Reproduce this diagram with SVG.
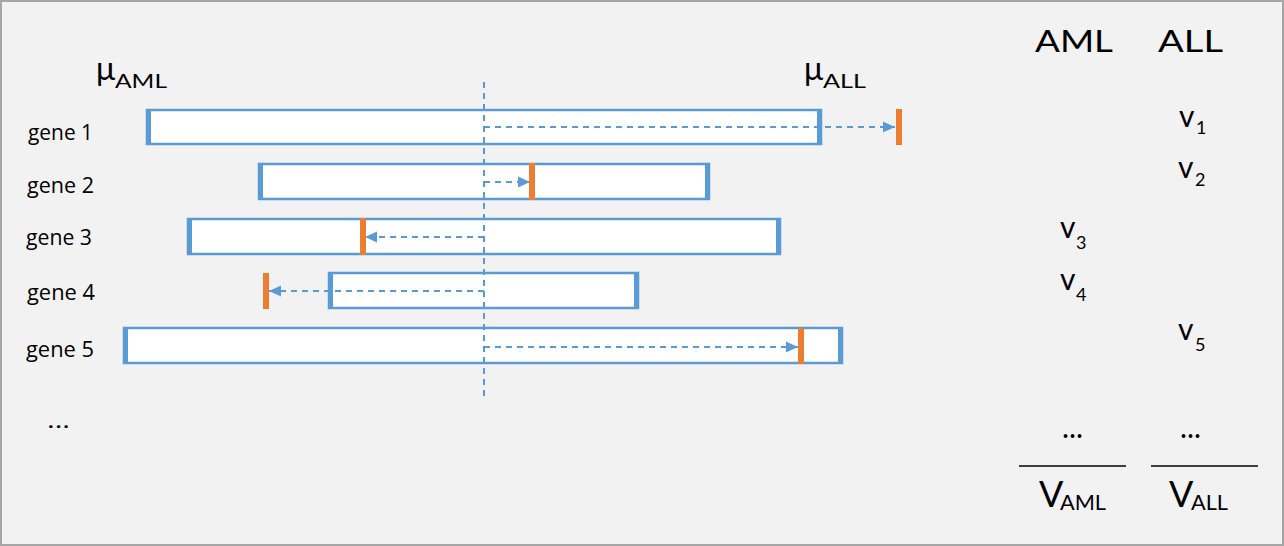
<svg xmlns="http://www.w3.org/2000/svg" width="1284" height="546" viewBox="0 0 1284 546">
<defs>
<style>
.bar{fill:#fff;stroke:#5b9bd5;stroke-width:2.5}
.end{fill:#5b9bd5}
.mk{fill:#ed7d31}
.dash{fill:none;stroke:#5b9bd5;stroke-width:2;stroke-dasharray:6 5}
.lbl{font-family:"Open Sans","Liberation Sans",sans-serif;font-size:22px;fill:#000}
.t{font-family:Lato,"Liberation Sans",sans-serif;fill:#000}
</style>
<marker id="ah" markerUnits="userSpaceOnUse" markerWidth="12" markerHeight="12" refX="12" refY="6" orient="auto" viewBox="0 0 12 12">
<path d="M0,0.5 L12,6 L0,11.5 z" fill="#5b9bd5"/>
</marker>
</defs>
<rect x="1" y="1" width="1282" height="544" fill="#f2f2f2" stroke="#a6a6a6" stroke-width="2"/>

<g id="gene1">
<rect class="bar" x="147" y="110" width="674" height="34"/>
<rect class="end" x="146" y="109" width="5" height="36"/>
<rect class="end" x="817" y="109" width="5" height="36"/>
<rect class="mk" x="896" y="109" width="6" height="36"/>
<text class="lbl" x="28" y="140" textLength="65" lengthAdjust="spacingAndGlyphs">gene 1</text>
</g>
<g id="gene2">
<rect class="bar" x="259" y="164" width="450" height="35"/>
<rect class="end" x="258" y="163" width="5" height="37"/>
<rect class="end" x="705" y="163" width="5" height="37"/>
<text class="lbl" x="27" y="193" textLength="67" lengthAdjust="spacingAndGlyphs">gene 2</text>
</g>
<g id="gene3">
<rect class="bar" x="188" y="219" width="592" height="35"/>
<rect class="end" x="187" y="218" width="5" height="37"/>
<rect class="end" x="776" y="218" width="5" height="37"/>
<text class="lbl" x="26" y="245" textLength="66" lengthAdjust="spacingAndGlyphs">gene 3</text>
</g>
<g id="gene4">
<rect class="bar" x="329" y="273" width="309" height="35"/>
<rect class="end" x="328" y="272" width="5" height="37"/>
<rect class="end" x="634" y="272" width="5" height="37"/>
<text class="lbl" x="27" y="300" textLength="68" lengthAdjust="spacingAndGlyphs">gene 4</text>
</g>
<g id="gene5">
<rect class="bar" x="124" y="328" width="718" height="35"/>
<rect class="end" x="123" y="327" width="5" height="37"/>
<rect class="end" x="838" y="327" width="5" height="37"/>
<text class="lbl" x="26" y="357" textLength="68" lengthAdjust="spacingAndGlyphs">gene 5</text>
</g>
<text id="more" class="lbl" x="47" y="428" font-size="26" textLength="23" lengthAdjust="spacingAndGlyphs">...</text>

<g id="connectors">
<line class="dash" x1="484" y1="82" x2="484" y2="399"/>
<line class="dash" x1="484" y1="127" x2="895" y2="127" marker-end="url(#ah)"/>
<line class="dash" x1="484" y1="182" x2="530" y2="182" marker-end="url(#ah)"/>
<line class="dash" x1="484" y1="237" x2="365" y2="237" marker-end="url(#ah)"/>
<line class="dash" x1="484" y1="291" x2="269" y2="291" marker-end="url(#ah)"/>
<line class="dash" x1="484" y1="347" x2="798" y2="347" marker-end="url(#ah)"/>
</g>

<g id="markers">
<rect class="mk" x="529" y="163" width="6" height="37"/>
<rect class="mk" x="360" y="218" width="6" height="37"/>
<rect class="mk" x="263" y="273" width="6" height="36"/>
<rect class="mk" x="798" y="328" width="6" height="36"/>
</g>

<g id="mu-aml">
<text class="t" x="96" y="80" font-size="32">μ</text>
<text class="t" x="115" y="88" font-size="20" textLength="52" lengthAdjust="spacingAndGlyphs">AML</text>
</g>
<g id="mu-all">
<text class="t" x="804" y="80" font-size="32">μ</text>
<text class="t" x="823" y="88" font-size="20" textLength="43" lengthAdjust="spacingAndGlyphs">ALL</text>
</g>

<g id="table">
<text class="t" x="1035" y="52" font-size="31" textLength="78" lengthAdjust="spacingAndGlyphs">AML</text>
<text class="t" x="1158" y="52" font-size="31" textLength="65" lengthAdjust="spacingAndGlyphs">ALL</text>

<text class="t" x="1179" y="127" font-size="30">v</text><text class="t" x="1196" y="134" font-size="18">1</text>
<text class="t" x="1178" y="178" font-size="30">v</text><text class="t" x="1195" y="186" font-size="18">2</text>
<text class="t" x="1060" y="238" font-size="30">v</text><text class="t" x="1076" y="249" font-size="18">3</text>
<text class="t" x="1060" y="290" font-size="30">v</text><text class="t" x="1076" y="301" font-size="18">4</text>
<text class="t" x="1178" y="340" font-size="30">v</text><text class="t" x="1195" y="351" font-size="18">5</text>

<text class="t" x="1062" y="438" font-size="30" textLength="21" lengthAdjust="spacingAndGlyphs">...</text>
<text class="t" x="1180" y="438" font-size="30" textLength="21" lengthAdjust="spacingAndGlyphs">...</text>

<line x1="1019" y1="466" x2="1126" y2="466" stroke="#000" stroke-width="1.3"/>
<line x1="1151" y1="466" x2="1258" y2="466" stroke="#000" stroke-width="1.3"/>

<text class="t" x="1039" y="507" font-size="36">V</text>
<text class="t" x="1060" y="510" font-size="21" textLength="46" lengthAdjust="spacingAndGlyphs">AML</text>
<text class="t" x="1169" y="507" font-size="36">V</text>
<text class="t" x="1191" y="510" font-size="21" textLength="37" lengthAdjust="spacingAndGlyphs">ALL</text>
</g>
</svg>
